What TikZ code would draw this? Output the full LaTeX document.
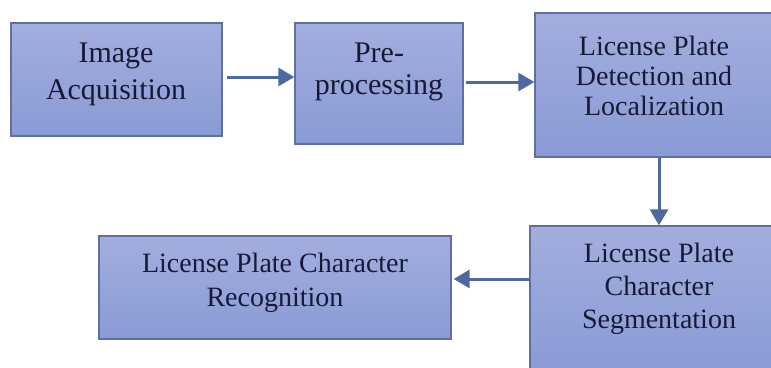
\documentclass[tikz,border=0pt]{standalone}
\usepackage{fontspec}
\setmainfont{Liberation Serif}
\usetikzlibrary{arrows.meta,calc}
\definecolor{boxtop}{RGB}{163,174,222}
\definecolor{boxbot}{RGB}{137,155,213}
\definecolor{boxline}{RGB}{96,110,160}
\definecolor{arrowc}{RGB}{78,104,160}
\definecolor{txtc}{RGB}{22,26,55}
\tikzset{
  box/.style={draw=boxline, line width=1.3pt, top color=boxtop, bottom color=boxbot, inner sep=0pt},
  txt/.style={align=center, text=txtc, inner sep=0pt},
  arr/.style={draw=arrowc, line width=3pt, -{Triangle[length=16pt,width=18pt]}}
}
\begin{document}
\begin{tikzpicture}[x=1pt,y=-1pt]
\useasboundingbox[fill=white] (0,0) rectangle (771,367);
% boxes
\node[box, minimum width=211pt, minimum height=113pt] (b1) at (116.5,79.5) {};
\node[box, minimum width=168pt, minimum height=121pt] (b2) at (379,83.5) {};
\node[box, minimum width=240pt, minimum height=144pt] (b3) at (655,85) {};
\node[box, minimum width=245pt, minimum height=146pt] (b4) at (652.5,299) {};
\node[box, minimum width=352pt, minimum height=103pt] (b5) at (275,287.5) {};
% texts
\node[txt, font=\fontsize{30}{37}\selectfont] (t1) at (116,74) {Image\\Acquisition};
\node[txt, font=\fontsize{30}{32}\selectfont] (t2) at (379,71.5) {Pre-\\processing};
\node[txt, font=\fontsize{28}{30}\selectfont] (t3) at (654,75.5) {License Plate\\Detection and\\Localization};
\node[txt, font=\fontsize{28}{33}\selectfont] (t4) at (659,288.5) {License Plate\\Character\\Segmentation};
\node[txt, font=\fontsize{28}{34}\selectfont] (t5) at (275,283) {License Plate Character\\Recognition};
% arrows
\draw[arr] ([xshift=4pt]b1.east |- 0,77) -- (b2.west |- 0,77);
\draw[arr] ([xshift=2pt]b2.east |- 0,82) -- (b3.west |- 0,82);
\draw[arr] (b3.south -| 659,0) -- (b4.north -| 659,0);
\draw[arr] (b4.west |- 0,279) -- ([xshift=2pt]b5.east |- 0,279);
\end{tikzpicture}
\end{document}
